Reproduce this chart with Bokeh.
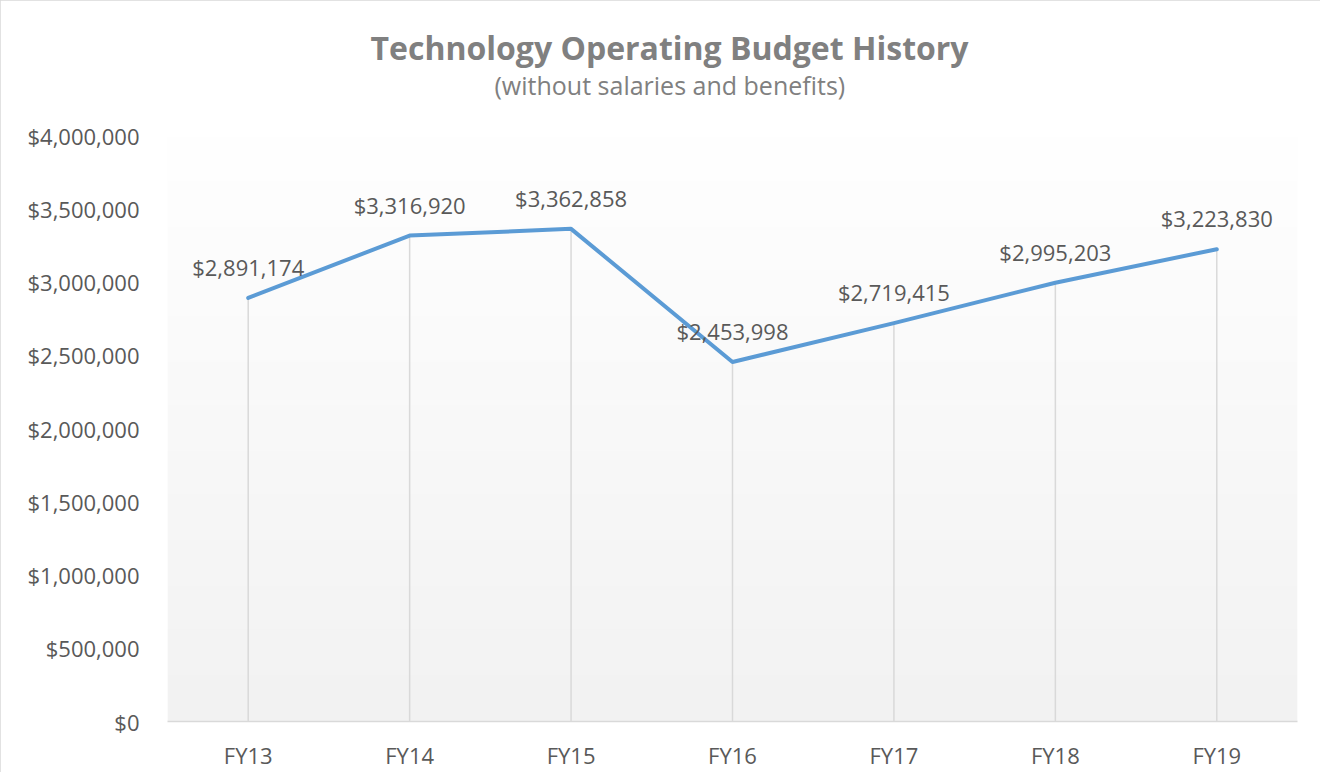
import numpy as np
from bokeh.plotting import figure
from bokeh.models import FactorRange, Range1d, NumeralTickFormatter, FixedTicker, Title, ColumnDataSource
from bokeh.core.properties import value
from bokeh.embed import file_html
from bokeh.resources import INLINE

# ---- data ----
categories = ["FY13", "FY14", "FY15", "FY16", "FY17", "FY18", "FY19"]
budget = [2891174, 3316920, 3362858, 2453998, 2719415, 2995203, 3223830]
budget_labels = ["$2,891,174", "$3,316,920", "$3,362,858", "$2,453,998",
                 "$2,719,415", "$2,995,203", "$3,223,830"]
y_ticks = [0, 500000, 1000000, 1500000, 2000000, 2500000, 3000000, 3500000, 4000000]
title_text = "Technology Operating Budget History"
subtitle_text = "(without salaries and benefits)"

FONT = "Open Sans"
LABEL_COLOR = "#595959"

src = ColumnDataSource(dict(cat=categories, val=budget, lab=budget_labels,
                            zero=[0] * len(budget)))

p = figure(x_range=FactorRange(factors=categories, range_padding=0),
           y_range=Range1d(0, 4000000),
           width=1320, height=772,
           output_backend="svg", toolbar_location=None, title=None,
           min_border_left=167, min_border_right=23,
           min_border_top=135, min_border_bottom=50)

p.styles = {"outline": "1px solid #d9d9d9", "outline-offset": "-1px"}
p.outline_line_color = None
p.xgrid.visible = False
p.ygrid.visible = False
p.background_fill_color = "white"
p.border_fill_color = "white"

# gradient plot-area background (white at top -> light gray at bottom)
n = 256
t = np.linspace(0, 1, n)  # row 0 = bottom
g = (242 + (255 - 242) * t).astype(np.uint32)
img = np.zeros((n, 1), dtype=np.uint32)
view = img.view(dtype=np.uint8).reshape((n, 1, 4))
view[:, 0, 0] = g
view[:, 0, 1] = g
view[:, 0, 2] = g
view[:, 0, 3] = 255
p.image_rgba(image=[img], x=0, y=0, dw=len(categories), dh=4000000, level="image")

# drop lines
p.segment(x0="cat", y0="zero", x1="cat", y1="val", source=src,
          line_color="#d9d9d9", line_width=1.5)

# series line
p.line(x="cat", y="val", source=src, line_color="#5b9bd5", line_width=4,
       line_join="round", line_cap="round")

# data labels
p.text(x="cat", y="val", text="lab", source=src,
       text_font=value(FONT), text_font_size="22px", text_color=LABEL_COLOR,
       text_align="center", text_baseline="middle", y_offset=-31)

# axes
p.yaxis.ticker = FixedTicker(ticks=y_ticks)
p.yaxis.formatter = NumeralTickFormatter(format="$0,0")
p.yaxis.axis_line_color = None
p.yaxis.major_tick_line_color = None
p.yaxis.minor_tick_line_color = None
p.yaxis.major_label_standoff = 22
p.yaxis.major_label_text_font = FONT
p.yaxis.major_label_text_font_size = "22px"
p.yaxis.major_label_text_color = LABEL_COLOR

p.xaxis.axis_line_color = "#d9d9d9"
p.xaxis.axis_line_width = 1.5
p.xaxis.major_tick_line_color = None
p.xaxis.minor_tick_line_color = None
p.xaxis.major_label_standoff = 12
p.xaxis.major_label_text_font = FONT
p.xaxis.major_label_text_font_size = "22px"
p.xaxis.major_label_text_color = LABEL_COLOR

# titles (subtitle added first -> closest to the plot)
p.add_layout(Title(text=subtitle_text, align="left", offset=327,
                   text_font=FONT, text_font_size="25px", text_font_style="normal",
                   text_color="#808080", standoff=68), "above")
p.add_layout(Title(text=title_text, align="left", offset=203,
                   text_font=FONT, text_font_size="32px", text_font_style="bold",
                   text_color="#808080", standoff=-74), "above")

open("out.html", "w").write(file_html(p, INLINE))
